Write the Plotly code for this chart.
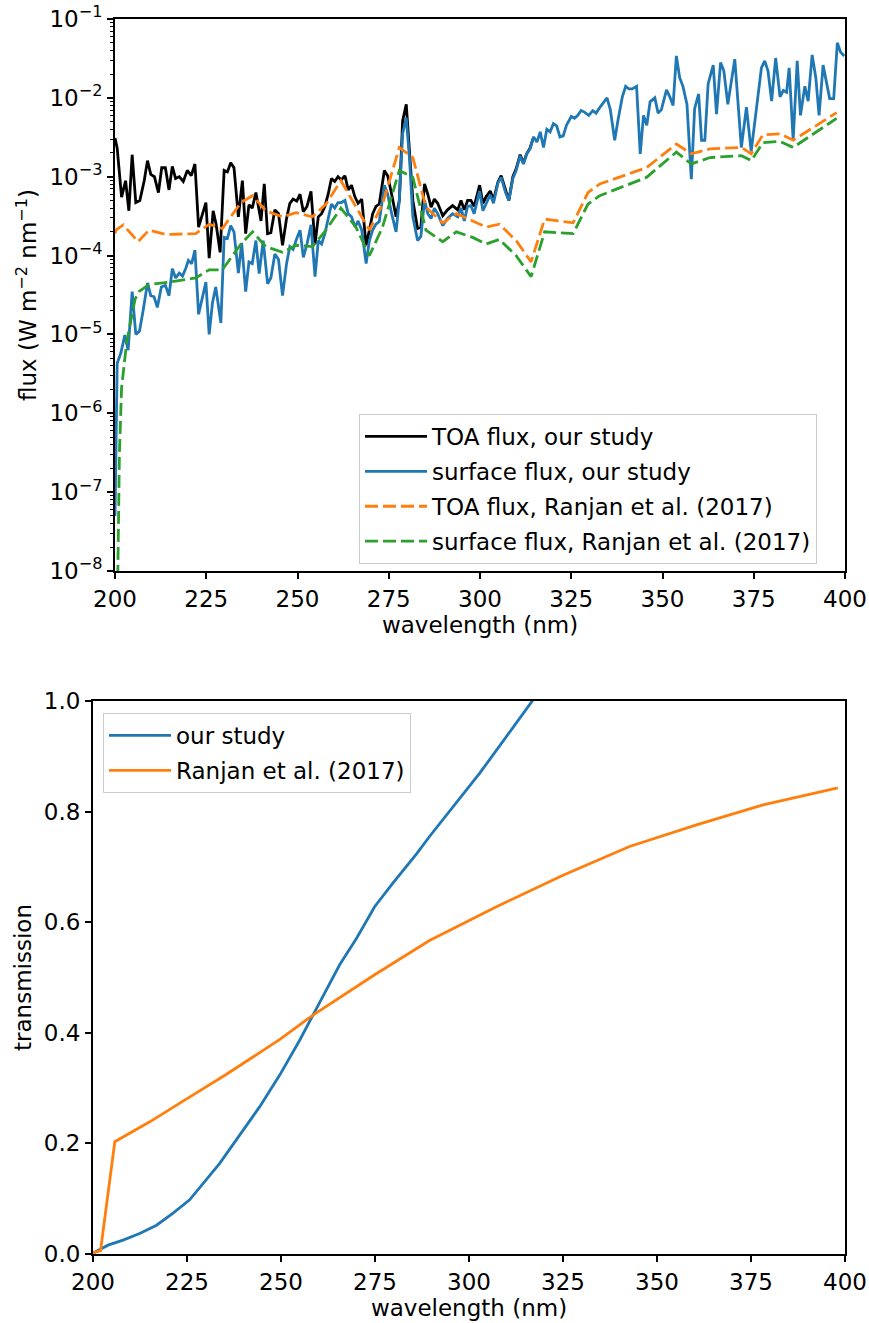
import plotly.graph_objects as go

# ---------------- top panel data: spectral flux ----------------
wl_toa_ours = [200.0, 200.6, 201.8, 202.9, 203.8, 204.7, 205.7, 206.8, 208.0, 208.9, 209.8, 210.8, 211.9, 212.8,
               213.8, 214.8, 215.7, 216.6, 217.6, 218.7, 219.8, 220.9, 221.9, 222.9, 224.9, 225.8, 226.9, 227.7,
               228.8, 229.9, 230.8, 231.7, 232.6, 233.8, 234.9, 235.8, 236.7, 237.6, 238.6, 240.0, 240.9, 241.8,
               242.7, 243.8, 244.8, 245.9, 247.0, 247.9, 248.8, 249.8, 250.7, 251.6, 252.6, 253.7, 254.8, 255.7,
               256.6, 257.5, 258.4, 259.3, 260.2, 261.1, 262.0, 263.0, 263.9, 264.8, 265.7, 266.6, 267.6, 268.8,
               269.7, 270.6, 271.5, 272.4, 273.8, 274.7, 275.8, 277.0, 277.9, 278.8, 279.8, 280.7, 281.6, 282.9,
               283.8, 284.8, 285.7, 286.6, 287.5, 288.4, 289.8, 291.1, 292.5, 293.9, 294.8, 295.7, 296.6, 297.5,
               298.4, 299.9, 300.8, 301.7, 302.8, 303.7, 304.9, 305.8, 307.0, 307.9, 309.0, 309.9, 311.0, 311.9,
               312.8, 313.7, 314.7]
toa_ours = [3.1e-3, 2.3e-3, 5.5e-4, 8.9e-4, 3.7e-4, 1.9e-3, 4.7e-4, 5.0e-4, 8.9e-4, 1.6e-3, 1.07e-3, 1.0e-3, 6.3e-4, 1.3e-3,
            1.3e-3, 6.8e-4, 1.35e-3, 9.5e-4, 1.0e-3, 8.7e-4, 1.2e-3, 1.03e-3, 1.45e-3, 2.3e-4, 4.7e-4, 9.3e-5, 3.7e-4, 2.5e-4,
            1.1e-4, 1.2e-3, 1.15e-3, 1.5e-3, 1.3e-3, 3.1e-4, 8.9e-4, 1.9e-4, 4.4e-4, 4.0e-4, 6.3e-4, 2.75e-4, 8.1e-4, 1.9e-4,
            1.95e-4, 3.8e-4, 3.4e-4, 1.35e-4, 2.95e-4, 4.6e-4, 5.2e-4, 4.9e-4, 6.0e-4, 3.6e-4, 4.2e-4, 6.5e-4, 1.4e-4, 3.1e-4,
            3.4e-4, 4.2e-4, 6.0e-4, 9.5e-4, 8.7e-4, 1.0e-3, 9.1e-4, 1.03e-3, 6.8e-4, 7.8e-4, 5.6e-4, 4.6e-4, 5.2e-4, 1.35e-4,
            2.1e-4, 3.4e-4, 4.2e-4, 4.5e-4, 1.2e-3, 1.03e-3, 6.0e-4, 3.1e-4, 5.0e-4, 5.1e-3, 8.3e-3, 2.1e-3, 5.0e-4, 2.2e-4,
            2.3e-4, 8.1e-4, 6.0e-4, 4.1e-4, 5.2e-4, 4.6e-4, 3.2e-4, 3.8e-4, 4.3e-4, 3.8e-4, 5.0e-4, 3.8e-4, 5.0e-4, 5.0e-4,
            4.2e-4, 7.8e-4, 4.6e-4, 5.6e-4, 6.6e-4, 5.1e-4, 8.5e-4, 1.03e-3, 6.8e-4, 5.0e-4, 1.0e-3, 1.26e-3, 1.9e-3, 1.5e-3,
            1.95e-3, 2.3e-3, 3.2e-3]

wl_surf_ours = [200.0, 200.6, 201.6, 202.7, 203.6, 204.7, 205.7, 206.7, 207.7, 208.9, 209.8, 210.7, 211.6, 212.7,
                213.8, 214.8, 215.7, 216.6, 217.6, 218.5, 219.4, 220.1, 221.0, 221.9, 222.9, 223.9, 224.9, 225.8,
                226.7, 227.6, 229.0, 229.9, 230.8, 231.7, 232.6, 233.8, 234.7, 235.8, 236.7, 237.6, 238.6, 239.5,
                240.6, 241.8, 242.7, 243.8, 244.8, 245.9, 247.0, 247.9, 248.8, 249.8, 250.7, 251.6, 252.6, 253.7,
                254.8, 255.7, 256.6, 257.5, 258.4, 259.3, 260.2, 261.1, 262.0, 263.0, 263.9, 264.8, 265.8, 266.6,
                267.6, 268.8, 269.7, 270.6, 271.5, 272.4, 273.8, 274.7, 275.8, 277.0, 277.9, 278.8, 279.8, 280.7,
                281.6, 282.9, 283.8, 284.8, 285.7, 286.6, 287.5, 288.4, 289.8, 291.1, 292.5, 293.9, 294.8, 295.7,
                296.6, 297.5, 298.4, 299.9, 300.8, 301.7, 302.8, 303.7, 304.9, 305.8, 307.0, 307.9, 309.0, 309.9,
                311.0, 311.9, 312.8, 313.7, 314.7, 315.6, 316.5, 317.4, 318.3, 319.2, 320.1, 321.0, 321.9, 322.8,
                323.7, 325.0, 325.9, 326.8, 327.7, 328.6, 329.8, 330.9, 331.8, 332.7, 333.8, 334.8, 335.7, 336.9,
                337.8, 339.0, 339.9, 340.8, 341.7, 342.9, 343.9, 344.8, 345.7, 346.6, 347.9, 348.8, 349.7, 351.1,
                352.0, 352.9, 353.8, 354.7, 355.6, 356.7, 357.9, 358.8, 359.9, 360.7, 361.6, 362.5, 363.9, 364.8,
                365.9, 366.8, 367.9, 369.8, 371.6, 373.0, 374.3, 376.2, 377.1, 378.0, 378.9, 379.9, 381.0, 382.2,
                383.1, 384.0, 384.7, 385.8, 386.9, 387.8, 389.0, 389.9, 391.0, 392.0, 392.9, 394.0, 394.9, 395.8,
                396.9, 397.9, 398.8, 399.8]
surf_ours = [5e-8, 4.3e-6, 5.8e-6, 9.8e-6, 6.3e-6, 3.5e-5, 1.0e-5, 1.1e-5, 2.0e-5, 4.5e-5, 3.1e-5, 3.0e-5, 2.2e-5, 4.0e-5,
             4.2e-5, 3.1e-5, 6.8e-5, 5.2e-5, 6.0e-5, 5.5e-5, 6.9e-5, 8.7e-5, 7.9e-5, 1.17e-4, 1.8e-5, 3.0e-5, 4.6e-5, 1.0e-5,
             2.5e-5, 4.0e-5, 1.4e-5, 1.7e-4, 1.65e-4, 2.4e-4, 2.0e-4, 6.0e-5, 1.45e-4, 3.5e-5, 8.3e-5, 7.9e-5, 1.55e-4, 5.9e-5,
             1.55e-4, 4.4e-5, 5.2e-5, 1.05e-4, 8.9e-5, 3.1e-5, 7.9e-5, 1.3e-4, 1.2e-4, 1.65e-4, 2.1e-4, 9.5e-5, 1.4e-4, 2.45e-4,
             5.4e-5, 1.55e-4, 1.4e-4, 1.9e-4, 2.9e-4, 4.5e-4, 4.0e-4, 4.7e-4, 4.7e-4, 5.0e-4, 3.4e-4, 3.1e-4, 2.3e-4, 2.75e-4,
             2.1e-4, 7.9e-5, 1.55e-4, 2.1e-4, 2.5e-4, 2.7e-4, 7.8e-4, 6.0e-4, 3.4e-4, 2.0e-4, 5.0e-4, 3.5e-3, 5.6e-3, 1.65e-3,
             3.1e-4, 1.55e-4, 1.75e-4, 5.0e-4, 3.4e-4, 2.95e-4, 4.0e-4, 3.4e-4, 2.4e-4, 2.95e-4, 3.4e-4, 3.1e-4, 4.0e-4, 2.75e-4,
             4.2e-4, 4.3e-4, 3.4e-4, 6.6e-4, 3.7e-4, 4.6e-4, 5.9e-4, 4.6e-4, 8.3e-4, 9.8e-4, 6.3e-4, 5.0e-4, 9.5e-4, 1.2e-3,
             1.85e-3, 1.45e-3, 1.95e-3, 2.25e-3, 3.2e-3, 2.75e-3, 3.7e-3, 2.35e-3, 4.0e-3, 3.7e-3, 4.7e-3, 4.4e-3, 3.2e-3, 3.3e-3,
             4.5e-3, 5.8e-3, 5.5e-3, 6.0e-3, 6.9e-3, 6.6e-3, 6.0e-3, 6.9e-3, 6.4e-3, 7.4e-3, 8.7e-3, 1.0e-2, 7.1e-3, 2.9e-3,
             5.2e-3, 1.03e-2, 1.4e-2, 1.3e-2, 1.3e-2, 1.4e-2, 1.95e-3, 6.0e-3, 4.5e-3, 8.9e-3, 1.0e-2, 6.4e-3, 7.1e-3, 1.26e-2,
             1.03e-2, 8.0e-3, 3.4e-2, 1.8e-2, 1.4e-2, 8.3e-3, 9.3e-4, 7.3e-3, 1.12e-2, 2.9e-3, 2.9e-3, 1.5e-2, 2.6e-2, 6.2e-3,
             2.8e-2, 2.2e-2, 8.3e-3, 3.1e-2, 2.35e-3, 7.6e-3, 2.1e-3, 1.24e-2, 2.4e-2, 2.95e-2, 2.2e-2, 9.1e-3, 3.2e-2, 1.03e-2,
             1.24e-2, 1.18e-2, 2.4e-2, 2.9e-3, 2.95e-2, 6.0e-3, 1.4e-2, 9.1e-3, 3.5e-2, 1.8e-2, 6.0e-3, 2.6e-2, 1.66e-2, 9.8e-3,
             9.8e-3, 5.0e-2, 3.8e-2, 3.4e-2]

wl_toa_ranjan = [200.0, 200.2, 202.3, 206.3, 209.3, 213.9, 222.1, 225.8, 229.4, 234.5, 237.7, 241.3, 245.9, 249.6,
                 254.1, 257.8, 261.9, 266.0, 269.7, 273.3, 277.9, 281.6, 285.2, 289.8, 293.5, 298.0, 301.7, 305.3,
                 309.9, 314.0, 317.7, 325.5, 329.6, 332.8, 345.6, 353.8, 357.9, 363.0, 371.6, 374.3, 377.5, 382.2,
                 385.8, 397.7]
toa_ranjan = [1.9e-4, 2.1e-4, 2.45e-4, 1.5e-4, 2.1e-4, 1.85e-4, 1.9e-4, 2.5e-4, 2.2e-4, 4.7e-4, 5.75e-4, 3.7e-4, 3.1e-4, 3.5e-4,
              3.1e-4, 4.5e-4, 8.9e-4, 4.1e-4, 2.1e-4, 4.5e-4, 2.35e-3, 1.75e-3, 4.1e-4, 2.6e-4, 3.4e-4, 2.75e-4, 2.3e-4, 2.5e-4,
              1.55e-4, 8.3e-5, 2.9e-4, 2.6e-4, 6.3e-4, 8.1e-4, 1.3e-3, 2.6e-3, 1.95e-3, 2.25e-3, 2.35e-3, 1.95e-3, 3.4e-3, 3.5e-3,
              2.9e-3, 6.5e-3]

wl_surf_ranjan = [200.5, 201.2, 201.8, 203.2, 205.5, 206.6, 209.3, 214.8, 222.1, 225.8, 229.4, 234.5, 237.7, 241.3,
                  245.9, 249.6, 254.1, 257.8, 261.9, 266.0, 269.7, 273.3, 277.9, 281.6, 285.2, 289.8, 293.5, 298.0,
                  301.7, 305.3, 309.9, 314.0, 317.7, 325.5, 329.6, 332.8, 345.6, 353.8, 357.9, 363.0, 371.6, 374.3,
                  377.5, 382.2, 385.8, 397.7]
surf_ranjan = [1e-9, 3e-7, 2.1e-6, 8e-6, 2.8e-5, 3.5e-5, 4.3e-5, 4.6e-5, 5.2e-5, 6.6e-5, 6.6e-5, 1.4e-4, 2.0e-4, 1.3e-4,
               1.1e-4, 1.35e-4, 1.3e-4, 2.1e-4, 4.0e-4, 2.3e-4, 1.0e-4, 2.3e-4, 1.2e-3, 9.8e-4, 2.1e-4, 1.5e-4, 2.0e-4, 1.7e-4,
               1.4e-4, 1.6e-4, 1.0e-4, 5.4e-5, 2.0e-4, 1.9e-4, 4.5e-4, 5.75e-4, 9.8e-4, 2.05e-3, 1.45e-3, 1.75e-3, 1.85e-3, 1.6e-3,
               2.7e-3, 2.8e-3, 2.35e-3, 5.5e-3]

# ---------------- bottom panel data: transmission ----------------
wl_trans_ours = [200.1, 201.8, 204.0, 208.0, 212.4, 216.9, 221.3, 225.7, 228.4, 233.7, 239.0, 244.3, 249.7, 255.0,
                 258.5, 262.1, 265.6, 270.1, 274.9, 279.8, 286.0, 289.5, 302.8, 316.6, 320.0]
trans_ours = [0.002, 0.0085, 0.016, 0.025, 0.037, 0.052, 0.074, 0.098, 0.121, 0.164, 0.215, 0.266, 0.324, 0.387,
              0.432, 0.477, 0.523, 0.571, 0.628, 0.671, 0.723, 0.755, 0.869, 0.998, 1.03]

wl_trans_ranjan = [200.0, 202.0, 205.8, 215.1, 224.8, 235.5, 249.7, 258.5, 274.9, 289.5, 307.3, 325.0, 342.7, 360.5,
                   378.2, 398.1]
trans_ranjan = [0.002, 0.006, 0.203, 0.239, 0.280, 0.325, 0.388, 0.432, 0.505, 0.567, 0.628, 0.685, 0.737, 0.776,
                0.812, 0.843]

x_ticks = [200, 225, 250, 275, 300, 325, 350, 375, 400]
log_exps = [-8, -7, -6, -5, -4, -3, -2, -1]
lin_ticks = [0.0, 0.2, 0.4, 0.6, 0.8, 1.0]

# ---------------- styling ----------------
W, H = 869, 1323
FONT = "DejaVu Sans"
FS = 23
BLUE, ORANGE, GREEN = "#1f77b4", "#ff7f0e", "#2ca02c"
LW = 2.8
DASH = "13px,5px"

fig = go.Figure()
fig.add_trace(go.Scatter(x=wl_toa_ours, y=toa_ours, mode="lines", name="TOA flux, our study",
                         line=dict(color="black", width=LW), xaxis="x", yaxis="y", legend="legend", legendgroup="a"))
fig.add_trace(go.Scatter(x=wl_surf_ours, y=surf_ours, mode="lines", name="surface flux, our study",
                         line=dict(color=BLUE, width=LW), xaxis="x", yaxis="y", legend="legend", legendgroup="b"))
fig.add_trace(go.Scatter(x=wl_toa_ranjan, y=toa_ranjan, mode="lines", name="TOA flux, Ranjan et al. (2017)",
                         line=dict(color=ORANGE, width=LW, dash=DASH), xaxis="x", yaxis="y", legend="legend", legendgroup="c"))
fig.add_trace(go.Scatter(x=wl_surf_ranjan, y=surf_ranjan, mode="lines", name="surface flux, Ranjan et al. (2017)",
                         line=dict(color=GREEN, width=LW, dash=DASH), xaxis="x", yaxis="y", legend="legend", legendgroup="d"))

fig.add_trace(go.Scatter(x=wl_trans_ours, y=trans_ours, mode="lines", name="our study",
                         line=dict(color=BLUE, width=LW), xaxis="x2", yaxis="y2", legend="legend2", legendgroup="e"))
fig.add_trace(go.Scatter(x=wl_trans_ranjan, y=trans_ranjan, mode="lines", name="Ranjan et al. (2017)",
                         line=dict(color=ORANGE, width=LW), xaxis="x2", yaxis="y2", legend="legend2", legendgroup="f"))

axis_common = dict(showgrid=False, zeroline=False, showline=True, linecolor="black", linewidth=2, mirror=True,
                   ticks="outside", ticklen=6, tickwidth=1.8, tickcolor="black", automargin=False,
                   tickfont=dict(family=FONT, size=FS, color="black"))

minor_vals = [k * 10.0 ** e for e in log_exps[:-1] for k in range(2, 10)]

def pow_label(e):
    return "10<sup>\u2212%d</sup>" % (-e)

legend_common = dict(xanchor="left", yanchor="top", bgcolor="rgba(255,255,255,0.8)", bordercolor="#cccccc",
                     borderwidth=1, font=dict(family=FONT, size=FS, color="black"), tracegroupgap=2,
                     traceorder="grouped", itemwidth=62)

fig.update_layout(
    width=W, height=H, margin=dict(l=0, r=0, t=0, b=0, autoexpand=False),
    paper_bgcolor="white", plot_bgcolor="white",
    font=dict(family=FONT, size=FS, color="black"),
    xaxis=dict(domain=[115 / W, 845 / W], anchor="y", range=[200, 400], tickmode="array", tickvals=x_ticks,
               title=dict(text="wavelength (nm)", standoff=6, font=dict(size=FS)), **axis_common),
    yaxis=dict(domain=[1 - 571 / H, 1 - 19 / H], anchor="x", type="log", range=[-8, -1], tickmode="array",
               tickvals=[10.0 ** e for e in log_exps], ticktext=[pow_label(e) for e in log_exps],
               minor=dict(tickmode="array", tickvals=minor_vals, ticks="outside", ticklen=3.5, tickwidth=1.2,
                          tickcolor="black", showgrid=False),
               title=dict(text="flux (W m<sup>\u22122</sup> nm<sup>\u22121</sup>)", standoff=6, font=dict(size=FS)),
               **axis_common),
    xaxis2=dict(domain=[93 / W, 845 / W], anchor="y2", range=[200, 400], tickmode="array", tickvals=x_ticks,
                title=dict(text="wavelength (nm)", standoff=6, font=dict(size=FS)), **axis_common),
    yaxis2=dict(domain=[1 - 1254 / H, 1 - 701 / H], anchor="x2", range=[0, 1], tickmode="array",
                tickvals=lin_ticks, ticktext=["%.1f" % v for v in lin_ticks],
                title=dict(text="transmission", standoff=6, font=dict(size=FS)), **axis_common),
    legend=dict(x=359 / W, y=1 - 414 / H, **legend_common),
    legend2=dict(x=103 / W, y=1 - 713 / H, **legend_common),
    showlegend=True,
)

fig.write_html("out.html")
